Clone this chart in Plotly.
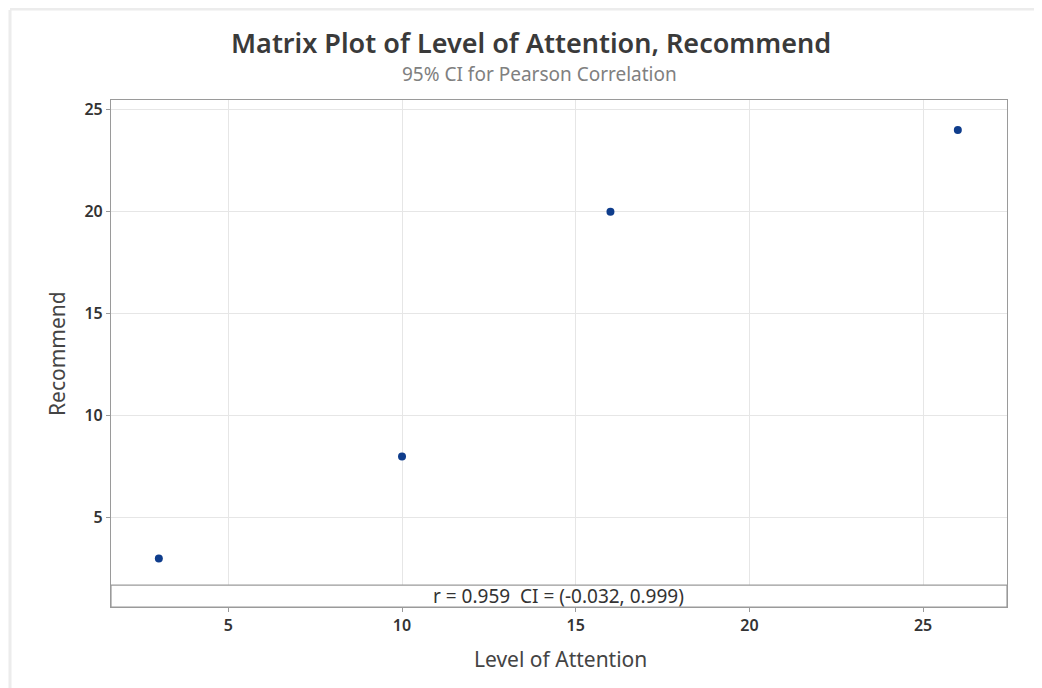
import plotly.graph_objects as go

# Data
level_of_attention = [3, 10, 16, 26]
recommend = [3, 8, 20, 24]
x_ticks = [5, 10, 15, 20, 25]
y_ticks = [5, 10, 15, 20, 25]
title_text = "Matrix Plot of Level of Attention, Recommend"
subtitle_text = "95% CI for Pearson Correlation"
stat_text = "r = 0.959  CI = (-0.032, 0.999)"

OFF = 8  # page body margin
L, R, T, B = 111 - OFF, 35, 100 - OFF, 81
pw, ph = 896, 507
W, H = L + pw + R, T + ph + B

def px_x(p):
    return (p - OFF - L) / pw

def px_y(p):
    return (T + ph - (p - OFF)) / ph

fig = go.Figure()
fig.add_trace(go.Scatter(
    x=level_of_attention, y=recommend, mode="markers",
    marker=dict(color="#0f3d8c", size=8),
    showlegend=False, hoverinfo="x+y",
))

x_lo, x_hi = 1.623, 27.415
y_lo, y_hi = 0.623, 25.475
strip_top = 1.70

fig.update_layout(
    width=W, height=H,
    margin=dict(l=L, r=R, t=T, b=B),
    paper_bgcolor="white", plot_bgcolor="white",
    font=dict(family="Noto Sans, Open Sans, sans-serif", color="#333333"),
    xaxis=dict(
        range=[x_lo, x_hi], tickvals=x_ticks, showgrid=True, gridcolor="#e6e6e6",
        gridwidth=1, zeroline=False, showline=True, linecolor="#9a9a9a", linewidth=1.2,
        mirror=True, ticks="outside", ticklen=4, tickcolor="#9a9a9a",
        tickfont=dict(size=16, color="#333333", weight=600),
    ),
    yaxis=dict(
        range=[y_lo, y_hi], tickvals=y_ticks, showgrid=True, gridcolor="#e6e6e6",
        gridwidth=1, zeroline=False, showline=True, linecolor="#9a9a9a", linewidth=1.2,
        mirror=True, ticks="outside", ticklen=4, tickcolor="#9a9a9a",
        tickfont=dict(size=16, color="#333333", weight=600),
    ),
    shapes=[
        dict(type="rect", xref="paper", yref="y", x0=0, x1=1, y0=y_lo, y1=strip_top,
             fillcolor="white", line=dict(color="#9a9a9a", width=1.2), layer="above"),
        dict(type="line", xref="paper", yref="paper", x0=px_x(10), x1=px_x(10),
             y0=px_y(10), y1=px_y(700), line=dict(color="#ececec", width=3)),
        dict(type="line", xref="paper", yref="paper", x0=px_x(10), x1=px_x(1050),
             y0=px_y(9), y1=px_y(9), line=dict(color="#ececec", width=3)),
    ],
    annotations=[
        dict(text=title_text, xref="paper", yref="paper", x=px_x(531), y=px_y(42),
             showarrow=False, font=dict(size=27, color="#3a3a3a", weight=600),
             xanchor="center", yanchor="middle"),
        dict(text=subtitle_text, xref="paper", yref="paper", x=px_x(539), y=px_y(74),
             showarrow=False, font=dict(size=19, color="#808080"),
             xanchor="center", yanchor="middle"),
        dict(text=stat_text, xref="paper", yref="y", x=px_x(558), y=(y_lo + strip_top) / 2,
             showarrow=False, font=dict(size=19, color="#333333"),
             xanchor="center", yanchor="middle"),
        dict(text="Level of Attention", xref="paper", yref="paper", x=px_x(560), y=px_y(659),
             showarrow=False, font=dict(size=21, color="#444444"),
             xanchor="center", yanchor="middle"),
        dict(text="Recommend", xref="paper", yref="paper", x=px_x(57), y=px_y(354),
             showarrow=False, font=dict(size=21, color="#444444"), textangle=-90,
             xanchor="center", yanchor="middle"),
    ],
)

fig.write_html("out.html")
